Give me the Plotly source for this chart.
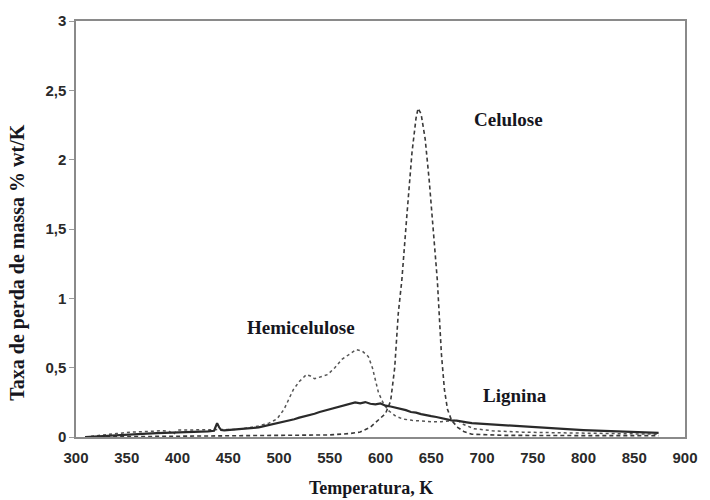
import plotly.graph_objects as go

# Temperature (K) and mass-loss rate (% wt/K) for each biomass component
cel_T = [309, 400, 500, 550, 570, 580, 590, 598, 605, 610, 614, 617.5, 621, 626, 631,
         635, 637, 640, 644, 648, 652, 656, 660, 663, 666, 670, 676, 682, 690, 720, 800, 874]
cel_rate = [0.0, 0.005, 0.01, 0.015, 0.025, 0.036, 0.07, 0.12, 0.17, 0.26, 0.5, 0.89, 1.13,
            1.6, 2.05, 2.3, 2.37, 2.33, 2.15, 1.85, 1.5, 1.13, 0.6, 0.34, 0.2, 0.12, 0.07,
            0.04, 0.02, 0.012, 0.01, 0.01]

hemi_T = [309, 320, 340, 355, 370, 385, 392, 396, 400, 420, 440, 460, 480, 490, 498, 505,
          514, 520, 527, 531, 535, 540, 548, 555, 562, 570, 576, 582, 588, 592, 595, 598,
          603, 608, 615, 622, 631, 640, 650, 660, 670, 676, 682, 692, 710, 740, 780, 820, 874]
hemi_rate = [0.0, 0.01, 0.025, 0.035, 0.04, 0.045, 0.04, 0.02, 0.05, 0.05, 0.05, 0.055,
             0.08, 0.10, 0.13, 0.2, 0.34, 0.4, 0.45, 0.44, 0.42, 0.43, 0.45, 0.5, 0.56, 0.6,
             0.63, 0.62, 0.58, 0.5, 0.42, 0.32, 0.24, 0.19, 0.15, 0.13, 0.12, 0.115, 0.11,
             0.11, 0.115, 0.12, 0.09, 0.06, 0.045, 0.035, 0.03, 0.025, 0.02]

lig_T = [309, 320, 330, 340, 350, 360, 370, 380, 390, 400, 410, 420, 430, 436, 439, 441,
         443, 446, 450, 455, 460, 465, 470, 475, 480, 485, 490, 495, 500, 505, 510, 515,
         520, 525, 530, 535, 540, 545, 550, 555, 560, 565, 570, 575, 580, 585, 590, 595,
         600, 605, 610, 615, 620, 625, 630, 635, 640, 645, 650, 655, 660, 665, 670, 675,
         680, 685, 690, 700, 710, 720, 740, 760, 780, 800, 820, 840, 860, 874]
lig_rate = [0.0, 0.005, 0.01, 0.015, 0.02, 0.022, 0.025, 0.028, 0.03, 0.032, 0.035, 0.038,
            0.04, 0.045, 0.10, 0.07, 0.05, 0.048, 0.05, 0.056, 0.054, 0.06, 0.063, 0.066,
            0.07, 0.078, 0.085, 0.092, 0.10, 0.11, 0.12, 0.128, 0.14, 0.148, 0.16, 0.168,
            0.18, 0.19, 0.2, 0.208, 0.22, 0.226, 0.24, 0.25, 0.243, 0.252, 0.24, 0.236, 0.242,
            0.226, 0.22, 0.212, 0.2, 0.194, 0.18, 0.176, 0.165, 0.16, 0.15, 0.144, 0.135,
            0.13, 0.12, 0.118, 0.11, 0.106, 0.1, 0.095, 0.09, 0.085, 0.075, 0.065, 0.058,
            0.05, 0.045, 0.04, 0.035, 0.03]

x_ticks = [300, 350, 400, 450, 500, 550, 600, 650, 700, 750, 800, 850, 900]
y_ticks = [0, 0.5, 1, 1.5, 2, 2.5, 3]
y_tick_text = ["0", "0,5", "1", "1,5", "2", "2,5", "3"]

labels = [("Celulose", 726, 2.29), ("Hemicelulose", 522, 0.79), ("Lignina", 733, 0.30)]

line_col = "#3a3a3a"
text_col = "#161620"
serif = "Liberation Serif, Times New Roman, serif"
sans = "Liberation Sans, Arial, sans-serif"

fig = go.Figure()
fig.add_trace(go.Scatter(x=cel_T, y=cel_rate, mode="lines", name="Celulose",
                         line=dict(color=line_col, width=1.6, dash="4px,3px")))
fig.add_trace(go.Scatter(x=hemi_T, y=hemi_rate, mode="lines", name="Hemicelulose",
                         line=dict(color="#555555", width=1.5, dash="dot")))
fig.add_trace(go.Scatter(x=lig_T, y=lig_rate, mode="lines", name="Lignina",
                         line=dict(color="#2a2a2a", width=2.2)))

for text, tx, ty in labels:
    fig.add_annotation(x=tx, y=ty, xref="x", yref="y", text=f"<b>{text}</b>",
                       showarrow=False, font=dict(family=serif, size=19, color=text_col))

# Axis titles
fig.add_annotation(x=(375 - 76) / 618, y=-0.122, xref="paper", yref="paper",
                   xanchor="center", yanchor="middle",
                   text="<b>Temperatura, K</b>", showarrow=False,
                   font=dict(family=serif, size=18, color=text_col))
fig.add_annotation(x=(17 - 76) / 618, y=(437 - 262) / 418, xref="paper", yref="paper",
                   xanchor="center", yanchor="middle",
                   text="<b>Taxa de perda de massa % wt/K</b>", showarrow=False,
                   textangle=-90, font=dict(family=serif, size=20, color=text_col))

fig.update_layout(
    width=710, height=500,
    margin=dict(l=76, r=16, t=19, b=63),
    paper_bgcolor="white", plot_bgcolor="white",
    showlegend=False,
    xaxis=dict(range=[300, 900], tickvals=x_ticks, ticks="", showgrid=False,
               zeroline=False, showline=True, linecolor="#8a8a8a", linewidth=1.5,
               mirror=True, tickfont=dict(family=sans, size=15, color="#2a2a2a",
                                          weight="bold"),
               ticklabelstandoff=6),
    yaxis=dict(range=[0, 3], tickvals=y_ticks, ticktext=y_tick_text, ticks="outside",
               ticklen=5, tickcolor="#9a9a9a", showgrid=False, zeroline=False,
               showline=True, linecolor="#8a8a8a", linewidth=1.5, mirror=True,
               tickfont=dict(family=sans, size=15, color="#2a2a2a", weight="bold")),
)

fig.write_html("out.html")
